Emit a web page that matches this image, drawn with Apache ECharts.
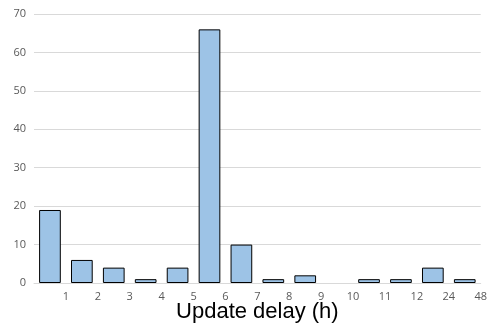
<!DOCTYPE html>
<html><head><meta charset="utf-8">
<script src="https://cdn.jsdelivr.net/npm/echarts@6/dist/echarts.min.js"></script>
<style>html,body{margin:0;padding:0;background:#fff}#c{width:490px;height:335px}</style>
</head><body><div id="c"></div>
<script>
const categories = ['0-1','1-2','2-3','3-4','4-5','5-6','6-7','7-8','8-9','9-10','10-11','11-12','12-24','24-48'];
const counts = [19, 6, 4, 1, 4, 66, 10, 1, 2, 0, 1, 1, 4, 1];
const edgeLabels = ['1','2','3','4','5','6','7','8','9','10','11','12','24','48'];
const yTicks = [0, 10, 20, 30, 40, 50, 60, 70];

const chart = echarts.init(document.getElementById('c'));
chart.setOption({
  animation: false,
  grid: { left: 34, right: 5, top: 14, bottom: 52 },
  xAxis: [
    {
      type: 'category', data: categories,
      axisLine: { show: true, lineStyle: { color: '#d9d9d9', width: 1 } },
      axisTick: { show: false }, axisLabel: { show: false },
      name: 'Update delay (h)', nameLocation: 'middle', nameGap: 18,
      nameTextStyle: { fontFamily: 'Liberation Sans', fontSize: 22, color: '#000' }
    },
    {
      type: 'value', position: 'bottom', min: 0, max: edgeLabels.length, interval: 1,
      axisLine: { show: false }, axisTick: { show: false }, splitLine: { show: false },
      axisLabel: {
        margin: 8, fontFamily: 'Open Sans', fontSize: 11, color: '#595959',
        showMinLabel: false,
        formatter: v => (v >= 1 ? edgeLabels[v - 1] : '')
      }
    }
  ],
  yAxis: {
    type: 'value', min: yTicks[0], max: yTicks[yTicks.length - 1], interval: 10,
    axisLine: { show: false }, axisTick: { show: false },
    axisLabel: { margin: 8, fontFamily: 'Open Sans', fontSize: 11, color: '#595959' },
    splitLine: { lineStyle: { color: '#d9d9d9', width: 1 } }
  },
  series: [{
    type: 'bar', xAxisIndex: 0,
    data: counts.map(v => (v === 0 ? { value: v, itemStyle: { borderWidth: 0 } } : v)),
    barCategoryGap: '32%',
    itemStyle: { color: '#9dc3e6', borderColor: '#000', borderWidth: 1 }
  }]
});
</script></body></html>
